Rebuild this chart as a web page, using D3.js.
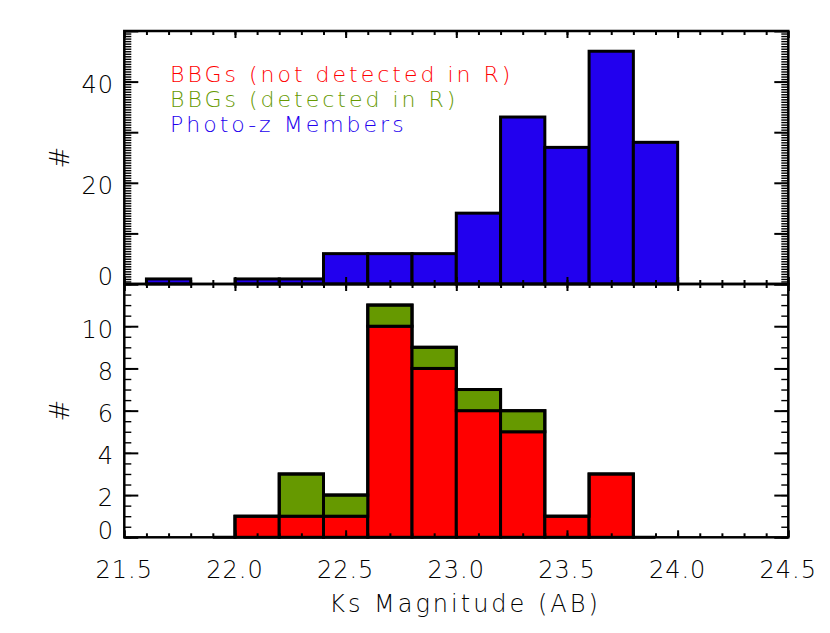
<!DOCTYPE html>
<html>
<head>
<meta charset="utf-8">
<script src="https://cdn.jsdelivr.net/npm/d3@7"></script>
<style>
  body { margin: 0; background: #fff; }
  text { font-family: "DejaVu Sans", sans-serif; font-weight: 300; fill: #000; }
</style>
</head>
<body>
<svg id="chart" width="830" height="633"></svg>
<script>
// left edges of the 0.2 mag bins
const binEdges = [21.6, 21.8, 22.0, 22.2, 22.4, 22.6, 22.8, 23.0, 23.2, 23.4, 23.6, 23.8];
const binWidth = 0.2;

// top panel: photo-z members
const photozCounts = [1, 0, 1, 1, 6, 6, 6, 14, 33, 27, 46, 28];

// bottom panel: BBGs, stacked
const bbgNotDetectedR = [0, 0, 1, 1, 1, 10, 8, 6, 5, 1, 3, 0];
const bbgDetectedR = [0, 0, 0, 2, 1, 1, 1, 1, 1, 0, 0, 0];

// axis labels
const xTickLabels = ["21.5", "22.0", "22.5", "23.0", "23.5", "24.0", "24.5"];
const yTopLabels = [0, 20, 40];
const yBotLabels = [0, 2, 4, 6, 8, 10];

const legendItems = [
  { text: "BBGs (not detected in R)", color: "#ff0000" },
  { text: "BBGs (detected in R)", color: "#669900" },
  { text: "Photo-z Members", color: "#2200ee" }
];

const svg = d3.select("#chart");

var x = d3.scaleLinear().domain([21.5, 24.5]).range([124.3, 788.3]);
var yTop = d3.scaleLinear().domain([0, 50]).range([284, 31]);
var yBot = d3.scaleLinear().domain([0, 12]).range([537.3, 284]);

// ---- top panel bars
const photozRows = binEdges.map((e, i) => ({ x0: e, n: photozCounts[i] }));

svg.append("g")
  .selectAll("rect")
  .data(photozRows.filter((d) => d.n > 0))
  .enter()
  .append("rect")
  .attr("x", (d) => x(d.x0))
  .attr("width", (d) => x(d.x0 + binWidth) - x(d.x0))
  .attr("y", (d) => yTop(d.n))
  .attr("height", (d) => yTop(0) - yTop(d.n))
  .style("fill", "#2200ee")
  .style("stroke", "#000")
  .style("stroke-width", 3);

// ---- bottom panel stacked bars
const bbgRows = binEdges.map((e, i) => ({
  x0: e,
  red: bbgNotDetectedR[i],
  total: bbgNotDetectedR[i] + bbgDetectedR[i]
}));

const gBot = svg.append("g");
gBot.selectAll(".red")
  .data(bbgRows.filter((d) => d.red > 0))
  .enter()
  .append("rect")
  .attr("class", "red")
  .attr("x", (d) => x(d.x0))
  .attr("width", (d) => x(d.x0 + binWidth) - x(d.x0))
  .attr("y", (d) => yBot(d.red))
  .attr("height", (d) => yBot(0) - yBot(d.red))
  .style("fill", "#ff0000")
  .style("stroke", "#000")
  .style("stroke-width", 3);

gBot.selectAll(".green")
  .data(bbgRows.filter((d) => d.total > d.red))
  .enter()
  .append("rect")
  .attr("class", "green")
  .attr("x", (d) => x(d.x0))
  .attr("width", (d) => x(d.x0 + binWidth) - x(d.x0))
  .attr("y", (d) => yBot(d.total))
  .attr("height", (d) => yBot(d.red) - yBot(d.total))
  .style("fill", "#669900")
  .style("stroke", "#000")
  .style("stroke-width", 3);

// histogram-mode outline of the totals (steps centred on bin centres)
gBot.append("path")
  .datum(bbgRows.slice(1))
  .attr("d", d3.line()
    .curve(d3.curveStep)
    .x((d) => x(d.x0 + binWidth / 2))
    .y((d) => yBot(d.total)))
  .style("fill", "none")
  .style("stroke", "#000")
  .style("stroke-width", 3);

// ---- axes
const xMajor = xTickLabels.map(Number);
const xMinor = d3.range(21.6, 24.45, 0.1).map((v) => +v.toFixed(1));
const L = x.range()[0], R = x.range()[1];

function ticks(g, axis, vals, size, w) {
  g.call(axis.tickValues(vals).tickSize(size).tickFormat(""));
  g.select(".domain").remove();
  g.selectAll(".tick line").style("stroke", "#000").style("stroke-width", w);
}

function panelAxes(y, yMajor, yMinorStep) {
  const y0 = y.range()[0], y1 = y.range()[1];
  const dom = y.domain();
  const yMinor = d3.range(dom[0], dom[1] + 0.001, yMinorStep);
  // left / right
  ticks(svg.append("g").attr("transform", `translate(${L},0)`), d3.axisRight(y), yMinor, 7, 1.4);
  ticks(svg.append("g").attr("transform", `translate(${L},0)`), d3.axisRight(y), yMajor, 14, 2);
  ticks(svg.append("g").attr("transform", `translate(${R},0)`), d3.axisLeft(y), yMinor, 7, 1.4);
  ticks(svg.append("g").attr("transform", `translate(${R},0)`), d3.axisLeft(y), yMajor, 14, 2);
  // top / bottom of panel
  ticks(svg.append("g").attr("transform", `translate(0,${y1})`), d3.axisBottom(x), xMinor, 4, 2);
  ticks(svg.append("g").attr("transform", `translate(0,${y1})`), d3.axisBottom(x), xMajor, 7, 2);
  ticks(svg.append("g").attr("transform", `translate(0,${y0})`), d3.axisTop(x), xMinor, 4, 2);
  ticks(svg.append("g").attr("transform", `translate(0,${y0})`), d3.axisTop(x), xMajor, 7, 2);
  // frame
  svg.append("rect")
    .attr("x", L).attr("y", y1)
    .attr("width", R - L).attr("height", y0 - y1)
    .style("fill", "none")
    .style("stroke", "#000")
    .style("stroke-width", 2.5);
}

panelAxes(yTop, [0, 10, 20, 30, 40, 50], 0.5);
panelAxes(yBot, [0, 2, 4, 6, 8, 10, 12], 0.5);

// y tick labels (lowest one nudged up off the axis like the original)
function yLabels(y, labels) {
  svg.append("g")
    .selectAll("text")
    .data(labels)
    .enter()
    .append("text")
    .attr("x", 114)
    .attr("y", (d) => y(d) + (d === 0 ? -7 : 3))
    .attr("dy", "0.35em")
    .attr("text-anchor", "end")
    .style("font-size", "24px")
    .style("letter-spacing", "1px")
    .text((d) => d);
}
yLabels(yTop, yTopLabels);
yLabels(yBot, yBotLabels);

// x tick labels
svg.append("g")
  .selectAll("text")
  .data(xTickLabels)
  .enter()
  .append("text")
  .attr("x", (d) => x(+d))
  .attr("y", 578)
  .attr("text-anchor", "middle")
  .style("font-size", "24px")
  .style("letter-spacing", "1px")
  .text((d) => d);

// titles
svg.append("text")
  .attr("x", 465)
  .attr("y", 612)
  .attr("text-anchor", "middle")
  .style("font-size", "24px")
  .style("letter-spacing", "3px")
  .text("Ks Magnitude (AB)");

[yTop, yBot].forEach((y) => {
  const cy = (y.range()[0] + y.range()[1]) / 2;
  svg.append("text")
    .attr("transform", `translate(69,${cy}) rotate(-90)`)
    .attr("text-anchor", "middle")
    .style("font-size", "26px")
    .text("#");
});

// legend
svg.append("g")
  .selectAll("text")
  .data(legendItems)
  .enter()
  .append("text")
  .attr("x", 170)
  .attr("y", (d, i) => 81.7 + i * 25)
  .style("font-size", "22px")
  .style("letter-spacing", "3px")
  .style("fill", (d) => d.color)
  .text((d) => d.text);
</script>
</body>
</html>
